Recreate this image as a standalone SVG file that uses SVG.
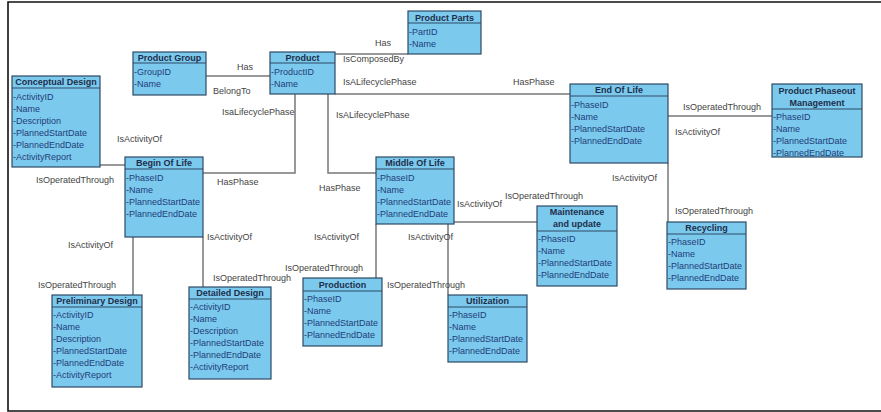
<svg xmlns="http://www.w3.org/2000/svg" width="881" height="412" viewBox="0 0 881 412">
<style>
.bx{fill:#7cc9ee;stroke:#2e4a66;stroke-width:1.2}
.sep{stroke:#2e4a66;stroke-width:1.2}
.hd{font-family:"Liberation Sans",Arial,sans-serif;font-size:9px;font-weight:bold;fill:#1c2e4a;text-anchor:middle}
.at{font-family:"Liberation Sans",Arial,sans-serif;font-size:9px;fill:#1f3d78}
.lb{font-family:"Liberation Sans",Arial,sans-serif;font-size:9px;fill:#444}
.cn{fill:none;stroke:#777;stroke-width:1.5}
</style>
<rect x="0" y="0" width="881" height="412" fill="#fff"/>
<path d="M881 2 H8 V411 H881" fill="none" stroke="#111" stroke-width="1.6"/>
<g id="connectors">
<path class="cn" d="M206 76 H270"/>
<path class="cn" d="M335 54 H408"/>
<path class="cn" d="M335 94 H570"/>
<path class="cn" d="M295 94 V173 H203"/>
<path class="cn" d="M328 94 V173 H376"/>
<path class="cn" d="M100 165 H125"/>
<path class="cn" d="M133 237 V295"/>
<path class="cn" d="M203 237 V287"/>
<path class="cn" d="M376 224 V278"/>
<path class="cn" d="M448 224 V295"/>
<path class="cn" d="M454 222 H537"/>
<path class="cn" d="M668 116 H772"/>
<path class="cn" d="M668 163 V222"/>
<text class="lb" x="237" y="70">Has</text>
<text class="lb" x="213" y="94">BelongTo</text>
<text class="lb" x="375" y="46">Has</text>
<text class="lb" x="343" y="62">IsComposedBy</text>
<text class="lb" x="343" y="85">IsALifecyclePhase</text>
<text class="lb" x="513" y="85">HasPhase</text>
<text class="lb" x="222" y="115">IsaLifecyclePhase</text>
<text class="lb" x="217" y="185">HasPhase</text>
<text class="lb" x="336" y="118">IsALifecyclePhase</text>
<text class="lb" x="319" y="191">HasPhase</text>
<text class="lb" x="117" y="142">IsActivityOf</text>
<text class="lb" x="36" y="183">IsOperatedThrough</text>
<text class="lb" x="68" y="248">IsActivityOf</text>
<text class="lb" x="38" y="288">IsOperatedThrough</text>
<text class="lb" x="207" y="240">IsActivityOf</text>
<text class="lb" x="213" y="281">IsOperatedThrough</text>
<text class="lb" x="314" y="240">IsActivityOf</text>
<text class="lb" x="285" y="271">IsOperatedThrough</text>
<text class="lb" x="408" y="240">IsActivityOf</text>
<text class="lb" x="387" y="288">IsOperatedThrough</text>
<text class="lb" x="457" y="207">IsActivityOf</text>
<text class="lb" x="505" y="199">IsOperatedThrough</text>
<text class="lb" x="683" y="110">IsOperatedThrough</text>
<text class="lb" x="675" y="135">IsActivityOf</text>
<text class="lb" x="612" y="181">IsActivityOf</text>
<text class="lb" x="675" y="214">IsOperatedThrough</text>
</g>
<g id="product-group">
<rect class="bx" x="133" y="52" width="73" height="43"/>
<line class="sep" x1="133" y1="63" x2="206" y2="63"/>
<text class="hd" x="169.5" y="61">Product Group</text>
<text class="at" x="134" y="75">-GroupID</text>
<text class="at" x="134" y="87">-Name</text>
</g>
<g id="product">
<rect class="bx" x="270" y="52" width="65" height="42"/>
<line class="sep" x1="270" y1="63" x2="335" y2="63"/>
<text class="hd" x="302.5" y="61">Product</text>
<text class="at" x="271" y="75">-ProductID</text>
<text class="at" x="271" y="87">-Name</text>
</g>
<g id="product-parts">
<rect class="bx" x="408" y="11" width="73" height="43"/>
<line class="sep" x1="408" y1="23" x2="481" y2="23"/>
<text class="hd" x="444.5" y="21">Product Parts</text>
<text class="at" x="409" y="35">-PartID</text>
<text class="at" x="409" y="47">-Name</text>
</g>
<g id="conceptual-design">
<rect class="bx" x="12" y="76" width="88" height="91"/>
<line class="sep" x1="12" y1="88" x2="100" y2="88"/>
<text class="hd" x="56" y="85">Conceptual Design</text>
<text class="at" x="13" y="100">-ActivityID</text>
<text class="at" x="13" y="112">-Name</text>
<text class="at" x="13" y="124">-Description</text>
<text class="at" x="13" y="136">-PlannedStartDate</text>
<text class="at" x="13" y="148">-PlannedEndDate</text>
<text class="at" x="13" y="160">-ActivityReport</text>
</g>
<g id="begin-of-life">
<rect class="bx" x="125" y="157" width="78" height="80"/>
<line class="sep" x1="125" y1="169" x2="203" y2="169"/>
<text class="hd" x="164" y="166">Begin Of Life</text>
<text class="at" x="126" y="181">-PhaseID</text>
<text class="at" x="126" y="193">-Name</text>
<text class="at" x="126" y="205">-PlannedStartDate</text>
<text class="at" x="126" y="217">-PlannedEndDate</text>
</g>
<g id="middle-of-life">
<rect class="bx" x="376" y="157" width="78" height="67"/>
<line class="sep" x1="376" y1="169" x2="454" y2="169"/>
<text class="hd" x="415" y="166">Middle Of Life</text>
<text class="at" x="377" y="181">-PhaseID</text>
<text class="at" x="377" y="193">-Name</text>
<text class="at" x="377" y="205">-PlannedStartDate</text>
<text class="at" x="377" y="217">-PlannedEndDate</text>
</g>
<g id="end-of-life">
<rect class="bx" x="570" y="84" width="98" height="79"/>
<line class="sep" x1="570" y1="96" x2="668" y2="96"/>
<text class="hd" x="619" y="93">End Of Life</text>
<text class="at" x="571" y="108">-PhaseID</text>
<text class="at" x="571" y="120">-Name</text>
<text class="at" x="571" y="132">-PlannedStartDate</text>
<text class="at" x="571" y="144">-PlannedEndDate</text>
</g>
<g id="product-phaseout-management">
<rect class="bx" x="772" y="84" width="90" height="73"/>
<line class="sep" x1="772" y1="109" x2="862" y2="109"/>
<text class="hd" x="817" y="94">Product Phaseout</text>
<text class="hd" x="817" y="106">Management</text>
<text class="at" x="773" y="120">-PhaseID</text>
<text class="at" x="773" y="132">-Name</text>
<text class="at" x="773" y="144">-PlannedStartDate</text>
<text class="at" x="773" y="156">-PlannedEndDate</text>
</g>
<g id="maintenance-and-update">
<rect class="bx" x="537" y="206" width="80" height="80"/>
<line class="sep" x1="537" y1="231" x2="617" y2="231"/>
<text class="hd" x="577" y="215">Maintenance</text>
<text class="hd" x="577" y="227">and update</text>
<text class="at" x="538" y="242">-PhaseID</text>
<text class="at" x="538" y="254">-Name</text>
<text class="at" x="538" y="266">-PlannedStartDate</text>
<text class="at" x="538" y="278">-PlannedEndDate</text>
</g>
<g id="recycling">
<rect class="bx" x="667" y="222" width="79" height="67"/>
<line class="sep" x1="667" y1="234" x2="746" y2="234"/>
<text class="hd" x="706.5" y="231">Recycling</text>
<text class="at" x="668" y="245">-PhaseID</text>
<text class="at" x="668" y="257">-Name</text>
<text class="at" x="668" y="269">-PlannedStartDate</text>
<text class="at" x="668" y="281">-PlannedEndDate</text>
</g>
<g id="production">
<rect class="bx" x="303" y="278" width="79" height="68"/>
<line class="sep" x1="303" y1="291" x2="382" y2="291"/>
<text class="hd" x="342.5" y="288">Production</text>
<text class="at" x="304" y="302">-PhaseID</text>
<text class="at" x="304" y="314">-Name</text>
<text class="at" x="304" y="326">-PlannedStartDate</text>
<text class="at" x="304" y="338">-PlannedEndDate</text>
</g>
<g id="utilization">
<rect class="bx" x="448" y="295" width="79" height="67"/>
<line class="sep" x1="448" y1="307" x2="527" y2="307"/>
<text class="hd" x="487.5" y="304">Utilization</text>
<text class="at" x="449" y="318">-PhaseID</text>
<text class="at" x="449" y="330">-Name</text>
<text class="at" x="449" y="342">-PlannedStartDate</text>
<text class="at" x="449" y="354">-PlannedEndDate</text>
</g>
<g id="preliminary-design">
<rect class="bx" x="52" y="295" width="90" height="92"/>
<line class="sep" x1="52" y1="307" x2="142" y2="307"/>
<text class="hd" x="97" y="304">Preliminary Design</text>
<text class="at" x="53" y="318">-ActivityID</text>
<text class="at" x="53" y="330">-Name</text>
<text class="at" x="53" y="342">-Description</text>
<text class="at" x="53" y="354">-PlannedStartDate</text>
<text class="at" x="53" y="366">-PlannedEndDate</text>
<text class="at" x="53" y="378">-ActivityReport</text>
</g>
<g id="detailed-design">
<rect class="bx" x="189" y="287" width="82" height="92"/>
<line class="sep" x1="189" y1="299" x2="271" y2="299"/>
<text class="hd" x="230" y="296">Detailed Design</text>
<text class="at" x="190" y="310">-ActivityID</text>
<text class="at" x="190" y="322">-Name</text>
<text class="at" x="190" y="334">-Description</text>
<text class="at" x="190" y="346">-PlannedStartDate</text>
<text class="at" x="190" y="358">-PlannedEndDate</text>
<text class="at" x="190" y="370">-ActivityReport</text>
</g>
</svg>
